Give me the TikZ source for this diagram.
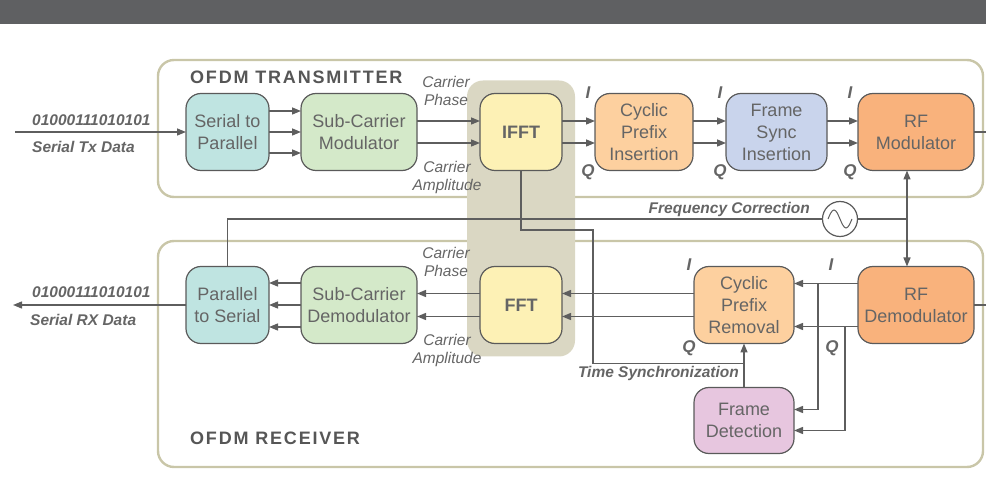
\documentclass[tikz,border=0pt]{standalone}
\usepackage{fontspec}
\setmainfont{Liberation Sans}
\newfontfamily\spacedfont[LetterSpace=10]{Liberation Sans}
\usepackage{tikz}
\usetikzlibrary{positioning, arrows.meta, fit, backgrounds}
\usepackage{xcolor}

\definecolor{wiregray}{HTML}{5E5E5E}
\definecolor{edgegray}{HTML}{5A5A5A}
\definecolor{textgray}{HTML}{656565}
\definecolor{panelline}{HTML}{C9C6A8}
\definecolor{bandfill}{HTML}{DAD7C3}
\definecolor{barfill}{HTML}{5F6062}
\definecolor{serfill}{HTML}{BFE4E1}
\definecolor{modfill}{HTML}{D4E9C9}
\definecolor{fftfill}{HTML}{FDF1B5}
\definecolor{cpfill}{HTML}{FDD09F}
\definecolor{syncfill}{HTML}{C9D4EC}
\definecolor{rffill}{HTML}{F9B27C}
\definecolor{detfill}{HTML}{E7C6DF}

\begin{document}
\begin{tikzpicture}[x=1pt, y=-1pt, >={Triangle[length=9pt, width=7pt]},
    block/.style={draw=edgegray, line width=1.2pt, rounded corners=15pt, minimum height=77pt, align=center, inner sep=0pt, outer sep=0pt, text=textgray, font=\fontsize{18}{22}\selectfont},
    boldblock/.style={block, font=\fontsize{18}{22}\selectfont\bfseries},
    arrow/.style={->, draw=wiregray, line width=1.4pt},
    link/.style={draw=wiregray, line width=1.4pt},
    panel/.style={draw=panelline, line width=2.4pt, rounded corners=16pt},
    band/.style={fill=bandfill, rounded corners=16pt, inner sep=13pt},
    lbl/.style={text=textgray, align=center, inner sep=0pt, font=\fontsize{15.5}{18}\selectfont\itshape},
    sig/.style={text=textgray, inner sep=0pt, font=\fontsize{15.5}{18}\selectfont\bfseries\itshape},
    iq/.style={text=textgray, inner sep=0pt, font=\fontsize{17}{20}\selectfont\bfseries\itshape},
    title/.style={text=textgray!85!black, inner sep=0pt, anchor=west, font=\spacedfont\fontsize{18}{20}\selectfont\bfseries},
    osc/.style={circle, draw=edgegray, line width=1.2pt, fill=white, minimum size=35pt, inner sep=0pt, outer sep=0pt}]
    \useasboundingbox (0,0) rectangle (986,486);
    \fill[barfill] (0,0) rectangle (986,24);

    % transmitter chain
    \node[block, fill=serfill, minimum width=83pt] (s2p) at (227.5,132) {Serial to\\Parallel};
    \node[block, fill=modfill, minimum width=116pt, right=32pt of s2p] (scm) {Sub-Carrier\\Modulator};
    \node[boldblock, fill=fftfill, minimum width=82pt, right=63pt of scm] (ifft) {IFFT};
    \node[block, fill=cpfill, minimum width=98pt, right=33pt of ifft] (cpi) {Cyclic\\Prefix\\Insertion};
    \node[block, fill=syncfill, minimum width=101pt, right=33pt of cpi] (fsi) {Frame\\Sync\\Insertion};
    \node[block, fill=rffill, minimum width=116pt, right=31pt of fsi] (rfmod) {RF\\Modulator};

    % receiver chain
    \node[block, fill=serfill, minimum width=83pt] (p2s) at (227.5,305) {Parallel\\to Serial};
    \node[block, fill=modfill, minimum width=116pt, right=32pt of p2s] (scd) {Sub-Carrier\\Demodulator};
    \node[boldblock, fill=fftfill, minimum width=82pt, right=63pt of scd] (fft) {FFT};
    \node[block, fill=cpfill, minimum width=100pt, right=132pt of fft] (cpr) {Cyclic\\Prefix\\Removal};
    \node[block, fill=rffill, minimum width=116pt, right=64pt of cpr] (rfdemod) {RF\\Demodulator};
    \node[block, fill=detfill, minimum width=100pt, minimum height=66pt, below=44pt of cpr] (fd) {Frame\\Detection};

    \node[osc] (osc) at (840,219) {};
    \draw[wiregray, line width=1pt] ([xshift=-12pt]osc.center) sin ++(6,-9) cos ++(6,9) sin ++(6,9) cos ++(6,-9);

    % panels and the FFT band
    \begin{scope}[on background layer]
        \draw[panel] (158,60) rectangle (983,197);
        \draw[panel] (158,241) rectangle (983,467);
        \node[band, fit=(ifft)(fft)] (fftband) {};
    \end{scope}

    \node[title] (txtitle) at (190,77) {OFDM TRANSMITTER};
    \node[title] (rxtitle) at (190,438) {OFDM RECEIVER};

    % transmitter connections
    \coordinate (txin) at (15,132);
    \coordinate (txout) at (986,132);
    \draw[arrow] (txin) -- (s2p.west);
    \draw[arrow] ([yshift=21pt]s2p.east) -- ([yshift=21pt]scm.west);
    \draw[arrow] (s2p.east) -- (scm.west);
    \draw[arrow] ([yshift=-21pt]s2p.east) -- ([yshift=-21pt]scm.west);
    \draw[arrow] ([yshift=11pt]scm.east) -- ([yshift=11pt]ifft.west);
    \draw[arrow] ([yshift=-11pt]scm.east) -- ([yshift=-11pt]ifft.west);
    \draw[arrow] ([yshift=11pt]ifft.east) -- ([yshift=11pt]cpi.west);
    \draw[arrow] ([yshift=-11pt]ifft.east) -- ([yshift=-11pt]cpi.west);
    \draw[arrow] ([yshift=11pt]cpi.east) -- ([yshift=11pt]fsi.west);
    \draw[arrow] ([yshift=-11pt]cpi.east) -- ([yshift=-11pt]fsi.west);
    \draw[arrow] ([yshift=11pt]fsi.east) -- ([yshift=11pt]rfmod.west);
    \draw[arrow] ([yshift=-11pt]fsi.east) -- ([yshift=-11pt]rfmod.west);
    \draw[link] (rfmod.east) -- (txout);

    % receiver connections
    \coordinate (rxout) at (13,305);
    \coordinate (rxin) at (986,305);
    \draw[link] (rfdemod.east) -- (rxin);
    \draw[arrow] ([yshift=21.5pt]rfdemod.west) -- ([yshift=21.5pt]cpr.east);
    \draw[arrow] ([yshift=-21.5pt]rfdemod.west) -- ([yshift=-21.5pt]cpr.east);
    \coordinate (ibranch) at ([xshift=-40pt, yshift=21.5pt]rfdemod.west);
    \coordinate (qbranch) at ([xshift=-13pt, yshift=-21.5pt]rfdemod.west);
    \draw[arrow] (ibranch) |- ([yshift=11pt]fd.east);
    \draw[arrow] (qbranch) |- ([yshift=-10pt]fd.east);
    \draw[arrow] (fd.north) -- (cpr.south);
    \draw[arrow] ([yshift=11.5pt]cpr.west) -- ([yshift=11.5pt]fft.east);
    \draw[arrow] ([yshift=-11.5pt]cpr.west) -- ([yshift=-11.5pt]fft.east);
    \draw[arrow] ([yshift=11.5pt]fft.west) -- ([yshift=11.5pt]scd.east);
    \draw[arrow] ([yshift=-11.5pt]fft.west) -- ([yshift=-11.5pt]scd.east);
    \draw[arrow] ([yshift=22pt]scd.west) -- ([yshift=22pt]p2s.east);
    \draw[arrow] (scd.west) -- (p2s.east);
    \draw[arrow] ([yshift=-22pt]scd.west) -- ([yshift=-22pt]p2s.east);
    \draw[arrow] (p2s.west) -- (rxout);

    % frequency correction and time synchronization
    \coordinate (fcjoin) at (907,219);
    \coordinate (tsjoin) at ([yshift=-20pt]cpr.south);
    \draw[link] (p2s.north) |- (osc.west);
    \draw[link] (osc.east) -- (fcjoin);
    \draw[arrow] (fcjoin) -- (fcjoin |- rfmod.south);
    \draw[arrow] (fcjoin) -- (fcjoin |- rfdemod.north);
    \draw[link] (ifft.south) |- ++(72,59.5) |- (tsjoin);

    % labels
    \node[sig, anchor=west] (txbits) at (32,120) {01000111010101};
    \node[sig, anchor=west] (txname) at (32,147) {Serial Tx Data};
    \node[sig, anchor=west] (rxbits) at (32,292) {01000111010101};
    \node[sig, anchor=west] (rxname) at (30,320) {Serial RX Data};
    \node[lbl] (txphase) at (446,91) {Carrier\\Phase};
    \node[lbl] (txamp) at (447,177) {Carrier\\Amplitude};
    \node[lbl] (rxphase) at (446,262) {Carrier\\Phase};
    \node[lbl] (rxamp) at (447,350) {Carrier\\Amplitude};
    \node[sig, anchor=base east] (fclabel) at (810,214) {Frequency Correction};
    \node[sig, anchor=base east] (tslabel) at (739,378) {Time Synchronization};

    \node[iq] (i1) at (588,93) {I};
    \node[iq] (q1) at (588,172) {Q};
    \node[iq] (i2) at (720,93) {I};
    \node[iq] (q2) at (720,172) {Q};
    \node[iq] (i3) at (850,93) {I};
    \node[iq] (q3) at (850,172) {Q};
    \node[iq] (i4) at (689,265) {I};
    \node[iq] (q4) at (689,348) {Q};
    \node[iq] (i5) at (831,265) {I};
    \node[iq] (q5) at (832,348) {Q};
\end{tikzpicture}
\end{document}
